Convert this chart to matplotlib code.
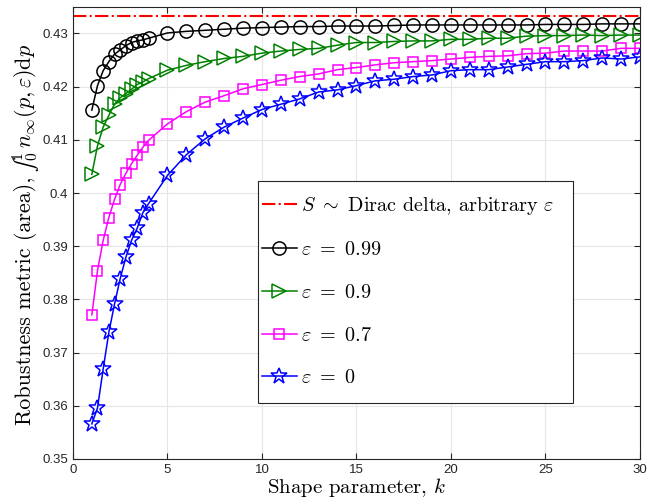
import numpy as np
import matplotlib
matplotlib.use("Agg")
from matplotlib import pyplot as plt
from matplotlib.patches import Rectangle

plt.rcParams['mathtext.fontset'] = 'cm'
plt.rcParams['font.family'] = ['Liberation Sans', 'DejaVu Sans']

# shape parameter k
k = [1.0, 1.3, 1.6, 1.9, 2.2, 2.5, 2.8, 3.1, 3.4, 3.7, 4.0,
     5, 6, 7, 8, 9, 10, 11, 12, 13, 14, 15, 16, 17, 18, 19, 20,
     21, 22, 23, 24, 25, 26, 27, 28, 29, 30]

dirac = 0.4333

eps099 = [0.4156, 0.4202, 0.4230, 0.4247, 0.4261, 0.4269, 0.4277, 0.4283, 0.4286, 0.4288, 0.4291,
          0.4301, 0.4304, 0.4306, 0.4308, 0.4310, 0.4311, 0.4312, 0.4313, 0.4313, 0.4314, 0.4314,
          0.4314, 0.4315, 0.4316, 0.4316, 0.4316, 0.4316, 0.4316, 0.4316, 0.4316, 0.4317, 0.4317,
          0.4317, 0.4318, 0.4318, 0.4318]

eps09 = [0.4035, 0.4089, 0.4124, 0.4146, 0.4167, 0.4179, 0.4187, 0.4195, 0.4204, 0.4209, 0.4215,
         0.4231, 0.4240, 0.4247, 0.4253, 0.4257, 0.4263, 0.4267, 0.4270, 0.4272, 0.4278, 0.4283,
         0.4283, 0.4285, 0.4286, 0.4286, 0.4289, 0.4289, 0.4291, 0.4291, 0.4295, 0.4296, 0.4296,
         0.4297, 0.4296, 0.4297, 0.4297]

eps07 = [0.3771, 0.3854, 0.3911, 0.3954, 0.3988, 0.4016, 0.4037, 0.4055, 0.4071, 0.4086, 0.4099,
         0.4130, 0.4153, 0.4171, 0.4183, 0.4196, 0.4204, 0.4212, 0.4219, 0.4224, 0.4232, 0.4236,
         0.4241, 0.4245, 0.4247, 0.4249, 0.4252, 0.4255, 0.4257, 0.4258, 0.4262, 0.4263, 0.4267,
         0.4267, 0.4267, 0.4272, 0.4272]

eps0 = [0.3566, 0.3596, 0.3669, 0.3738, 0.3791, 0.3839, 0.3879, 0.3911, 0.3934, 0.3963, 0.3980,
        0.4033, 0.4072, 0.4102, 0.4124, 0.4141, 0.4157, 0.4167, 0.4177, 0.4190, 0.4194, 0.4202,
        0.4211, 0.4214, 0.4219, 0.4222, 0.4230, 0.4232, 0.4232, 0.4237, 0.4242, 0.4247, 0.4247,
        0.4249, 0.4254, 0.4252, 0.4256]

W, H = 657, 504
fig = plt.figure(figsize=(W / 100, H / 100), dpi=100)
ax = fig.add_axes([0.111, 0.0893, 0.863, 0.896])

ax.plot([0, 30], [dirac, dirac], "-.", color="red", lw=1.5,
        label=r"$S\ \sim\ $Dirac delta, arbitrary $\varepsilon$")
ax.plot(k, eps099, "-o", color="black", lw=1.1, ms=9.5, mfc="none", mew=1.1,
        label=r"$\varepsilon\ =\ 0.99$")
ax.plot(k, eps09, "->", color="green", lw=1.1, ms=9.5, mfc="none", mew=1.1,
        label=r"$\varepsilon\ =\ 0.9$")
ax.plot(k, eps07, "-s", color="magenta", lw=1.1, ms=7.5, mfc="none", mew=1.1,
        label=r"$\varepsilon\ =\ 0.7$")
ax.plot(k, eps0, "-*", color="blue", lw=1.1, ms=12, mfc="none", mew=1.1,
        label=r"$\varepsilon\ =\ 0$")

ax.set_xlim(0, 30)
ax.set_ylim(0.35, 0.4349)
ax.set_xticks([0, 5, 10, 15, 20, 25, 30])
ax.set_yticks([0.35, 0.36, 0.37, 0.38, 0.39, 0.40, 0.41, 0.42, 0.43])
ax.set_yticklabels(["0.35", "0.36", "0.37", "0.38", "0.39", "0.4", "0.41", "0.42", "0.43"])
ax.tick_params(direction="in", top=True, right=True, labelsize=9.5, length=4, colors="#262626")
ax.grid(True, color="#e6e6e6", lw=0.8)
ax.set_axisbelow(True)
for s in ax.spines.values():
    s.set_color("#262626")
    s.set_linewidth(0.8)

ax.set_xlabel(r"Shape parameter, $k$", family="cmr10", fontsize=15, labelpad=0)

# y label built from pieces so the integral sign stays text sized
r = fig.canvas.get_renderer()
parts = [("Robustness metric (area),", "cmr10", 6),
         ("\u222b", "STIXGeneral", 0),
         (r"${}_0^1\,n_\infty(p,\varepsilon)\mathrm{d}p$", "cmr10", 0)]
texts = []
for s, fam, gap in parts:
    t = fig.text(0, 0, s, rotation=90, rotation_mode="anchor", ha="left",
                 va="baseline", family=fam, fontsize=15.9)
    texts.append((t, t.get_window_extent(r).height, gap))
total = sum(h + g for t, h, g in texts)
y = (H - 234.5) - total / 2
for t, h, g in texts:
    t.set_position((31 / W, y / H))
    y += h + g

# legend box (drawn by hand so the margins match)
box = Rectangle((0.3263, 0.124), 0.5555, 0.4917, transform=ax.transAxes,
                facecolor="white", edgecolor="#262626", lw=0.8, zorder=4)
ax.add_patch(box)
leg = ax.legend(loc="upper left", bbox_to_anchor=(0.333, 0.585), fontsize=14.5,
                frameon=False, handlelength=1.75, handletextpad=0.2,
                labelspacing=1.22, borderpad=0, borderaxespad=0)
leg.set_zorder(5)
for t in leg.get_texts():
    t.set_family("cmr10")

plt.savefig("out.png", dpi=100)
